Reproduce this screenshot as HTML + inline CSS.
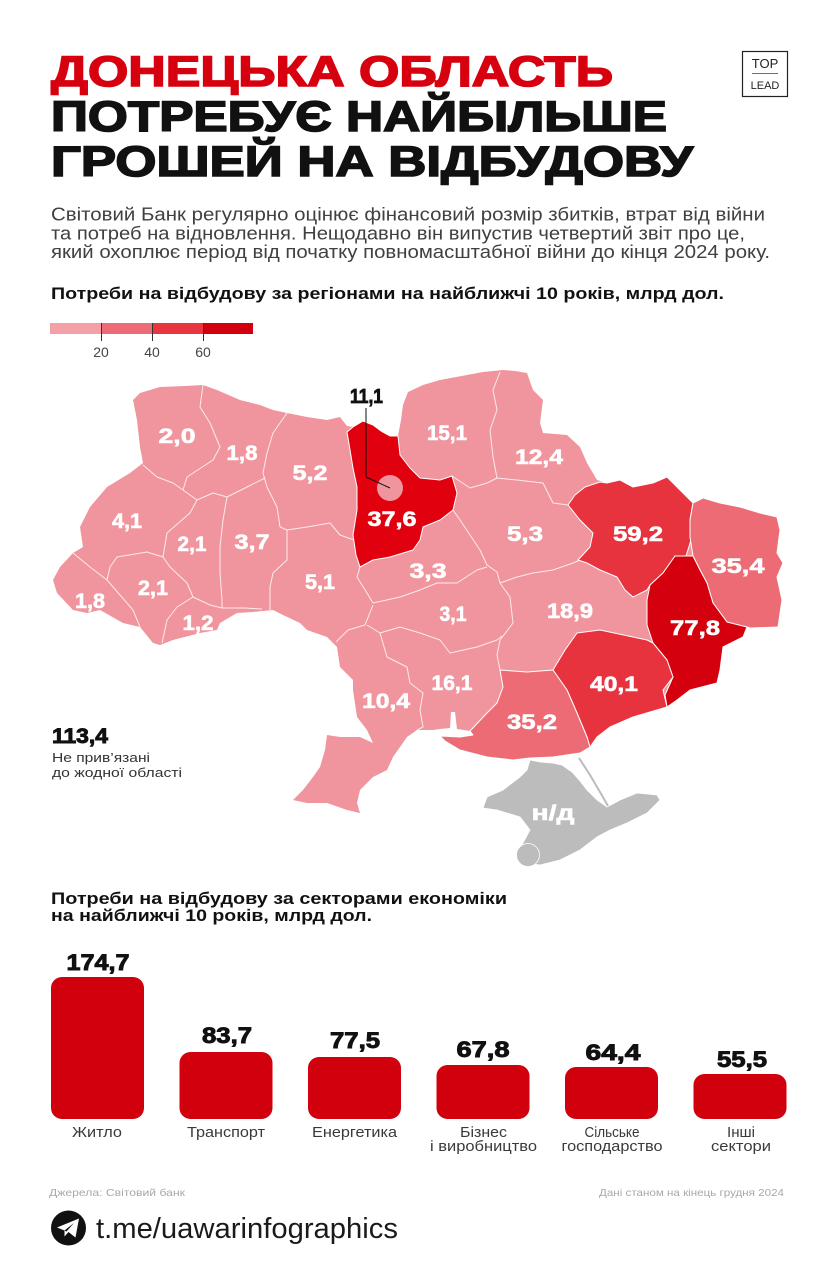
<!DOCTYPE html>
<html><head><meta charset="utf-8"><style>
html,body{margin:0;padding:0;background:#fff;}
svg{display:block;}
text{font-family:"Liberation Sans","DejaVu Sans",sans-serif;}
.hd{font-weight:bold;font-size:43px;stroke-width:1.6;}
.lbl{font-weight:bold;font-size:21px;fill:#fff;stroke:#fff;stroke-width:0.6;text-anchor:middle;}
.val{font-weight:bold;font-size:22px;fill:#111;stroke:#111;stroke-width:0.9;text-anchor:middle;}
.cat{font-size:15px;fill:#3a3a3a;text-anchor:middle;}
.bd{fill:none;stroke:#fff;stroke-width:1;stroke-opacity:0.8;stroke-linejoin:round;}
</style></head><body>
<svg width="834" height="1280" viewBox="0 0 834 1280" xmlns="http://www.w3.org/2000/svg">
<rect width="834" height="1280" fill="#fff"/>

<!-- Title -->
<text x="51" y="86" class="hd" fill="#d7000f" stroke="#d7000f" textLength="562" lengthAdjust="spacingAndGlyphs">ДОНЕЦЬКА ОБЛАСТЬ</text>
<text x="51" y="131" class="hd" fill="#111" stroke="#111" textLength="616" lengthAdjust="spacingAndGlyphs">ПОТРЕБУЄ НАЙБІЛЬШЕ</text>
<text x="51" y="176" class="hd" fill="#111" stroke="#111" textLength="642" lengthAdjust="spacingAndGlyphs">ГРОШЕЙ НА ВІДБУДОВУ</text>

<!-- TOP LEAD logo -->
<rect x="742.5" y="51.5" width="45" height="45" fill="#fff" stroke="#222" stroke-width="1.2"/>
<text x="765" y="68" font-size="13" text-anchor="middle" fill="#222">TOP</text>
<line x1="752" y1="73.5" x2="778" y2="73.5" stroke="#8a5a9a" stroke-width="1"/>
<text x="765" y="89" font-size="11" text-anchor="middle" fill="#222">LEAD</text>

<!-- Paragraph -->
<text x="51" y="220.5" font-size="18" fill="#404040" textLength="714" lengthAdjust="spacingAndGlyphs">Світовий Банк регулярно оцінює фінансовий розмір збитків, втрат від війни</text>
<text x="51" y="239.5" font-size="18" fill="#404040" textLength="694" lengthAdjust="spacingAndGlyphs">та потреб на відновлення. Нещодавно він випустив четвертий звіт про це,</text>
<text x="51" y="258" font-size="18" fill="#404040" textLength="719" lengthAdjust="spacingAndGlyphs">який охоплює період від початку повномасштабної війни до кінця 2024 року.</text>

<!-- Subheading -->
<text x="51" y="299" font-size="17" font-weight="bold" fill="#111" textLength="673" lengthAdjust="spacingAndGlyphs">Потреби на відбудову за регіонами на найближчі 10 років, млрд дол.</text>

<!-- Legend -->
<rect x="50" y="323" width="51" height="11" fill="#f3a0a6"/>
<rect x="101" y="323" width="51" height="11" fill="#ec6b75"/>
<rect x="152" y="323" width="51" height="11" fill="#e8353f"/>
<rect x="203" y="323" width="50" height="11" fill="#d2000e"/>
<line x1="101.5" y1="323" x2="101.5" y2="341" stroke="#333" stroke-width="1"/>
<line x1="152.5" y1="323" x2="152.5" y2="341" stroke="#333" stroke-width="1"/>
<line x1="203.5" y1="323" x2="203.5" y2="341" stroke="#333" stroke-width="1"/>
<text x="101" y="357" font-size="14" fill="#444" text-anchor="middle">20</text>
<text x="152" y="357" font-size="14" fill="#444" text-anchor="middle">40</text>
<text x="203" y="357" font-size="14" fill="#444" text-anchor="middle">60</text>

<!-- Map: base country -->
<path fill="#f0959d" d="M133,400 L140,393 L160,387 L185,386 L203,385 L217,390 L240,400 L260,405 L273,410 L287,413 L307,417 L327,420 L340,417 L347,426 L353,427 L363,421 L373,425 L381,431 L390,436 L398,436 L401,420 L403,405 L408,392 L423,385 L440,380 L467,375 L483,372 L503,370 L515,371 L527,373 L533,390 L543,400 L540,423 L543,433 L567,435 L580,447 L587,463 L597,480 L607,483 L620,480 L633,487 L653,483 L667,477 L677,487 L693,503 L703,498 L720,503 L740,507 L760,513 L777,517 L780,530 L777,553 L783,563 L777,577 L782,600 L778,627 L750,628 L747,627 L743,637 L723,647 L720,670 L717,683 L690,690 L677,700 L667,707 L633,717 L610,727 L597,737 L590,747 L580,753 L553,757 L530,758 L513,760 L487,757 L460,750 L445,741 L440,736 L460,737 L473,735 L470,731 L457,729 L455,712 L451,712 L450,728 L440,729 L433,730 L417,730 L407,737 L400,747 L393,757 L387,770 L373,777 L360,790 L357,803 L360,813 L347,810 L327,803 L307,803 L293,800 L303,790 L313,777 L320,767 L325,750 L327,735 L340,737 L360,737 L373,743 L367,730 L357,717 L353,690 L353,680 L340,667 L337,647 L327,637 L307,630 L300,623 L283,615 L273,610 L253,612 L237,613 L220,623 L217,630 L200,633 L173,640 L160,645 L153,643 L140,627 L123,623 L100,610 L87,613 L73,610 L57,593 L53,580 L60,567 L73,553 L83,547 L80,527 L90,507 L107,487 L130,473 L143,463 L140,447 L137,420 Z"/>

<!-- internal borders (light regions) -->
<g class="bd">
<polyline points="203,385 200,407 210,423 220,447 213,460 187,477 183,490"/>
<polyline points="143,465 157,477 173,483 183,490"/>
<polyline points="287,413 273,433 267,453 263,473 267,487 277,507 280,527"/>
<polyline points="183,490 197,500 213,493 227,497 247,487 265,478"/>
<polyline points="197,500 190,513 167,533 163,557 170,567 187,583 193,597"/>
<polyline points="227,497 223,520 220,547 220,573 222,600 222,608"/>
<polyline points="280,527 287,530 287,560 273,573 270,587 270,610"/>
<polyline points="287,530 307,527 330,523 340,535 354,540"/>
<polyline points="163,557 147,552 117,557 110,567 107,580"/>
<polyline points="73,553 90,567 107,580 120,595 133,610 140,627"/>
<polyline points="193,597 177,607 167,620 162,643"/>
<polyline points="193,597 210,605 222,608 245,608 262,609"/>
<polyline points="360,567 357,577 367,593 373,603"/>
<polyline points="336,642 348,630 365,625 373,605"/>
<polyline points="367,625 380,633 387,657"/>
<polyline points="373,603 400,597 420,590 437,583 457,583 477,570 487,567"/>
<polyline points="453,510 460,520 470,535 480,550 487,565 497,572 500,583"/>
<polyline points="500,583 517,577 533,573 553,570 573,563 580,560"/>
<polyline points="500,372 493,390 497,410 490,430 493,457 497,478"/>
<polyline points="452,476 470,488 487,483 497,478 517,480 543,483 553,503 568,505"/>
<polyline points="500,583 510,597 513,623 500,640 497,655 500,670"/>
<polyline points="380,633 400,627 420,633 440,640 450,653 477,647 497,640 502,636"/>
<polyline points="387,657 407,667 410,683 423,693 420,710 423,727 417,730"/>
</g>

<!-- colored regions -->
<g stroke="#fff" stroke-width="1" stroke-linejoin="round">
<!-- Kyiv oblast -->
<path fill="#e0000e" d="M347,432 L353,427 L363,421 L373,425 L381,431 L390,436 L398,436 L400,455 L410,468 L420,478 L440,480 L452,476 L457,493 L453,510 L440,520 L423,527 L420,540 L413,550 L390,557 L373,560 L360,567 L356,555 L353,535 L357,510 L357,487 L353,468 L350,450 Z"/>
<!-- Kharkiv -->
<path fill="#e6333e" d="M600,482 L607,483 L620,480 L633,487 L653,483 L667,477 L677,487 L693,503 L690,520 L691,540 L686,556 L675,556 L663,573 L650,585 L647,590 L633,597 L625,590 L617,577 L600,570 L587,563 L578,560 L590,547 L593,533 L580,520 L568,505 L575,495 L585,487 Z"/>
<!-- Luhansk -->
<path fill="#ec6b75" d="M693,503 L703,498 L720,503 L740,507 L760,513 L777,517 L780,530 L777,553 L783,563 L777,577 L782,600 L778,627 L750,628 L747,627 L735,625 L727,622 L713,603 L707,583 L700,570 L693,556 L690,537 L690,520 Z"/>
<!-- Donetsk -->
<path fill="#d4000e" d="M686,556 L693,556 L700,570 L707,583 L713,603 L727,622 L747,627 L743,637 L723,647 L720,670 L717,683 L690,690 L677,700 L667,707 L665,695 L673,677 L667,660 L653,643 L647,625 L647,600 L650,585 L663,573 L675,556 Z"/>
<!-- Zaporizhzhia -->
<path fill="#e6333e" d="M577,633 L600,630 L633,637 L647,640 L653,643 L667,660 L673,677 L663,690 L667,707 L633,717 L610,727 L597,737 L590,747 L587,737 L577,713 L567,690 L553,670 L565,650 Z"/>
<!-- Kherson -->
<path fill="#ec6b75" d="M500,670 L527,672 L553,670 L567,690 L577,713 L587,737 L590,747 L580,753 L553,757 L530,758 L513,760 L487,757 L460,750 L445,741 L440,736 L460,737 L473,735 L470,731 L487,713 L497,703 L503,687 Z"/>
</g>

<!-- Crimea -->
<path fill="#bcbcbc" stroke="#fff" stroke-width="0.8" d="M483,808 L487,797 L503,790 L520,777 L527,770 L530,760 L540,762 L552,763 L562,765 L572,772 L580,781 L587,790 L597,800 L607,807 L620,800 L637,793 L657,795 L660,800 L647,813 L627,823 L610,830 L597,837 L580,850 L560,860 L540,865 L527,863 L517,853 L523,843 L530,830 L520,817 L497,810 Z"/>
<polyline points="579,758 590,775 600,792 608,806" fill="none" stroke="#bcbcbc" stroke-width="2"/>
<circle cx="528" cy="855" r="11.5" fill="#bcbcbc" stroke="#fff" stroke-width="0.8"/>

<!-- Kyiv city -->
<circle cx="390" cy="488" r="13" fill="#f0959d"/>
<polyline points="366,408 366,477 390,488" fill="none" stroke="#111" stroke-width="1"/>
<text x="366.5" y="403" font-size="20" font-weight="bold" fill="#111" stroke="#111" stroke-width="0.8" text-anchor="middle" textLength="33" lengthAdjust="spacingAndGlyphs">11,1</text>

<!-- Map labels -->
<g>
<text class="lbl" x="177" y="443" textLength="37" lengthAdjust="spacingAndGlyphs">2,0</text>
<text class="lbl" x="242" y="460" textLength="31" lengthAdjust="spacingAndGlyphs">1,8</text>
<text class="lbl" x="310" y="480" textLength="35" lengthAdjust="spacingAndGlyphs">5,2</text>
<text class="lbl" x="127" y="528" textLength="30" lengthAdjust="spacingAndGlyphs">4,1</text>
<text class="lbl" x="192" y="551" textLength="29" lengthAdjust="spacingAndGlyphs">2,1</text>
<text class="lbl" x="252" y="549" textLength="35" lengthAdjust="spacingAndGlyphs">3,7</text>
<text class="lbl" x="153" y="595" textLength="30" lengthAdjust="spacingAndGlyphs">2,1</text>
<text class="lbl" x="90" y="608" textLength="30" lengthAdjust="spacingAndGlyphs">1,8</text>
<text class="lbl" x="198" y="630" textLength="31" lengthAdjust="spacingAndGlyphs">1,2</text>
<text class="lbl" x="320" y="589" textLength="30" lengthAdjust="spacingAndGlyphs">5,1</text>
<text class="lbl" x="392" y="526" textLength="49" lengthAdjust="spacingAndGlyphs">37,6</text>
<text class="lbl" x="447" y="440" textLength="40" lengthAdjust="spacingAndGlyphs">15,1</text>
<text class="lbl" x="539" y="464" textLength="48" lengthAdjust="spacingAndGlyphs">12,4</text>
<text class="lbl" x="638" y="541" textLength="50" lengthAdjust="spacingAndGlyphs">59,2</text>
<text class="lbl" x="738" y="573" textLength="53" lengthAdjust="spacingAndGlyphs">35,4</text>
<text class="lbl" x="525" y="541" textLength="36" lengthAdjust="spacingAndGlyphs">5,3</text>
<text class="lbl" x="428" y="578" textLength="37" lengthAdjust="spacingAndGlyphs">3,3</text>
<text class="lbl" x="453" y="621" textLength="27" lengthAdjust="spacingAndGlyphs">3,1</text>
<text class="lbl" x="570" y="618" textLength="46" lengthAdjust="spacingAndGlyphs">18,9</text>
<text class="lbl" x="695" y="635" textLength="50" lengthAdjust="spacingAndGlyphs">77,8</text>
<text class="lbl" x="614" y="691" textLength="48" lengthAdjust="spacingAndGlyphs">40,1</text>
<text class="lbl" x="452" y="690" textLength="41" lengthAdjust="spacingAndGlyphs">16,1</text>
<text class="lbl" x="386" y="708" textLength="48" lengthAdjust="spacingAndGlyphs">10,4</text>
<text class="lbl" x="532" y="729" textLength="50" lengthAdjust="spacingAndGlyphs">35,2</text>
<text class="lbl" x="553" y="820" textLength="43" lengthAdjust="spacingAndGlyphs">н/д</text>
</g>

<!-- 113,4 note -->
<text x="52" y="743" font-size="21" font-weight="bold" fill="#111" stroke="#111" stroke-width="0.9" textLength="56" lengthAdjust="spacingAndGlyphs">113,4</text>
<text x="52" y="762" font-size="13" fill="#333" textLength="98" lengthAdjust="spacingAndGlyphs">Не прив’язані</text>
<text x="52" y="777" font-size="13" fill="#333" textLength="130" lengthAdjust="spacingAndGlyphs">до жодної області</text>

<!-- Bar chart heading -->
<text x="51" y="904" font-size="17" font-weight="bold" fill="#111" textLength="456" lengthAdjust="spacingAndGlyphs">Потреби на відбудову за секторами економіки</text>
<text x="51" y="921" font-size="17" font-weight="bold" fill="#111" textLength="321" lengthAdjust="spacingAndGlyphs">на найближчі 10 років, млрд дол.</text>

<!-- Bars -->
<g fill="#d0000d">
<rect x="51" y="977" width="93" height="142" rx="11"/>
<rect x="179.5" y="1052" width="93" height="67" rx="11"/>
<rect x="308" y="1057" width="93" height="62" rx="11"/>
<rect x="436.5" y="1065" width="93" height="54" rx="11"/>
<rect x="565" y="1067" width="93" height="52" rx="11"/>
<rect x="693.5" y="1074" width="93" height="45" rx="11"/>
</g>
<text class="val" x="98" y="970" textLength="63" lengthAdjust="spacingAndGlyphs">174,7</text>
<text class="val" x="227" y="1043" textLength="50" lengthAdjust="spacingAndGlyphs">83,7</text>
<text class="val" x="355" y="1048" textLength="50" lengthAdjust="spacingAndGlyphs">77,5</text>
<text class="val" x="483" y="1057" textLength="53" lengthAdjust="spacingAndGlyphs">67,8</text>
<text class="val" x="613" y="1060" textLength="55" lengthAdjust="spacingAndGlyphs">64,4</text>
<text class="val" x="742" y="1067" textLength="50" lengthAdjust="spacingAndGlyphs">55,5</text>

<text class="cat" x="97" y="1137" textLength="50" lengthAdjust="spacingAndGlyphs">Житло</text>
<text class="cat" x="226" y="1137" textLength="78" lengthAdjust="spacingAndGlyphs">Транспорт</text>
<text class="cat" x="354.5" y="1137" textLength="85" lengthAdjust="spacingAndGlyphs">Енергетика</text>
<text class="cat" x="483.5" y="1137" textLength="47" lengthAdjust="spacingAndGlyphs">Бізнес</text>
<text class="cat" x="483.5" y="1151" textLength="107" lengthAdjust="spacingAndGlyphs">і виробництво</text>
<text class="cat" x="612" y="1137" textLength="55" lengthAdjust="spacingAndGlyphs">Сільське</text>
<text class="cat" x="612" y="1151" textLength="101" lengthAdjust="spacingAndGlyphs">господарство</text>
<text class="cat" x="741" y="1137" textLength="28" lengthAdjust="spacingAndGlyphs">Інші</text>
<text class="cat" x="741" y="1151" textLength="60" lengthAdjust="spacingAndGlyphs">сектори</text>

<!-- Footer -->
<text x="49" y="1196" font-size="10.5" fill="#a8a8a8" textLength="136" lengthAdjust="spacingAndGlyphs">Джерела: Світовий банк</text>
<text x="784" y="1196" font-size="10.5" fill="#a8a8a8" text-anchor="end" textLength="185" lengthAdjust="spacingAndGlyphs">Дані станом на кінець грудня 2024</text>

<circle cx="68.5" cy="1228" r="17.5" fill="#111"/>
<path d="M57,1227.5 L79,1218.5 L75.5,1237.5 L68.5,1232 L64.5,1236.5 L64.5,1230.5 Z" fill="#fff"/>
<path d="M64.5,1230.5 L74,1223 L66.5,1231.5 Z" fill="#111"/>
<text x="96" y="1238" font-size="29" fill="#1a1a1a" textLength="302" lengthAdjust="spacingAndGlyphs">t.me/uawarinfographics</text>
</svg>
</body></html>
